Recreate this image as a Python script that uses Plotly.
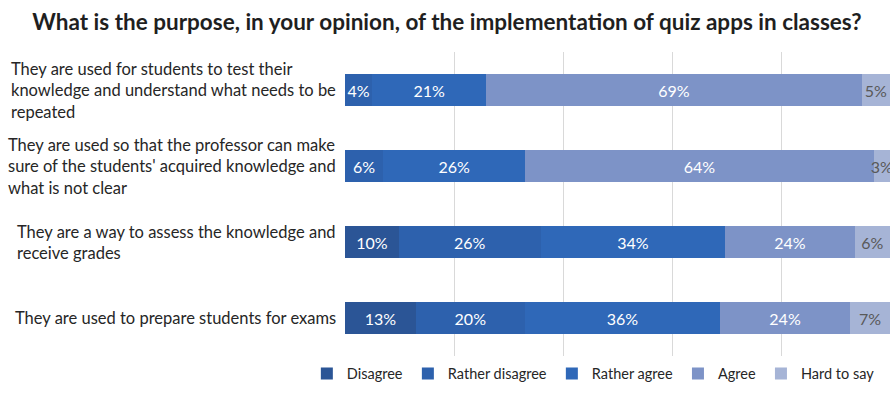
import plotly.graph_objects as go

categories = [
    "They are used for students to test their<br>knowledge and understand what needs to be<br>repeated",
    "They are used so that the professor can make<br>sure of the students' acquired knowledge and<br>what is not clear",
    "They are a way to assess the knowledge and<br>receive grades",
    "They are used to prepare students for exams",
]
series_names = ["Disagree", "Rather disagree", "Rather agree", "Agree", "Hard to say"]
colors = ["#2b5596", "#2d61ad", "#2f68b8", "#7d93c7", "#a6b4d6"]
text_colors = ["white", "white", "white", "white", "#595959"]

# segment shares (bar widths, %)
values = {
    "Disagree":        [None, None, 9.9, 13.0],
    "Rather disagree": [5.0, 7.0, 26.0, 20.0],
    "Rather agree":    [20.9, 26.1, 33.9, 35.8],
    "Agree":           [68.9, 63.9, 23.7, 23.9],
    "Hard to say":     [5.2, 3.0, 6.5, 7.3],
}
# data labels as printed on the chart
labels = {
    "Disagree":        ["", "", "10%", "13%"],
    "Rather disagree": ["4%", "6%", "26%", "20%"],
    "Rather agree":    ["21%", "26%", "34%", "36%"],
    "Agree":           ["69%", "64%", "24%", "24%"],
    "Hard to say":     ["5%", "3%", "6%", "7%"],
}
title = "What is the purpose, in your opinion, of the implementation of quiz apps in classes?"

FONT = "Lato"
fig = go.Figure()
for name, col, tcol in zip(series_names, colors, text_colors):
    fig.add_trace(go.Bar(
        name=name, orientation="h", y=categories, x=values[name],
        marker=dict(color=col, line=dict(width=0)),
        text=labels[name], textposition="inside", insidetextanchor="middle",
        constraintext="none", textangle=0,
        textfont=dict(family=FONT, size=16, color=tcol),
        hoverinfo="skip",
    ))

for c in categories:
    fig.add_annotation(
        x=-0.013, xref="paper", y=c, yref="y", text=c, showarrow=False,
        xanchor="right", yanchor="middle", align="left",
        font=dict(family=FONT, size=16.5, color="#262626"),
    )

fig.update_layout(
    width=894, height=394,
    margin=dict(l=345, r=4, t=52, b=29),
    barmode="stack", bargap=0.58,
    plot_bgcolor="white", paper_bgcolor="white",
    font=dict(family=FONT, color="#262626"),
    title=dict(text="<b>" + title + "</b>", x=0.5, xref="container", xanchor="center",
               y=1 - 22 / 394, yref="container", yanchor="middle",
               font=dict(family=FONT, size=22.5, color="#1f1f1f")),
    xaxis=dict(range=[0, 100], dtick=20, showgrid=True, gridcolor="#d9d9d9", gridwidth=1,
               showticklabels=False, zeroline=False, showline=False, fixedrange=True),
    yaxis=dict(categoryorder="array", categoryarray=categories, autorange="reversed",
               showticklabels=False, showgrid=False, zeroline=False, showline=False),
    legend=dict(orientation="h", x=-0.07, xanchor="left", y=-0.058, yanchor="middle",
                font=dict(family=FONT, size=14.5, color="#262626"), traceorder="normal",
                itemclick=False, bgcolor="rgba(0,0,0,0)"),
    showlegend=True,
)

fig.write_html("out.html")
